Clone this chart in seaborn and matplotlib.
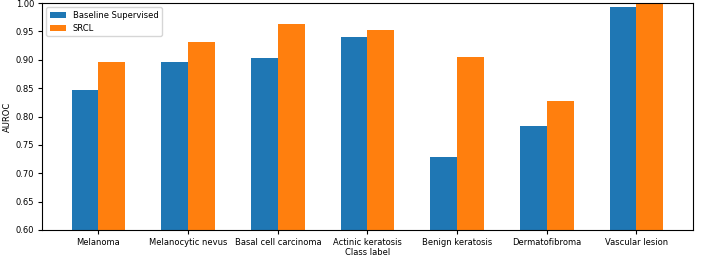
import pandas as pd
import seaborn as sns
import matplotlib.pyplot as plt

# AUROC per class
classes = ["Melanoma", "Melanocytic nevus", "Basal cell carcinoma", "Actinic keratosis",
           "Benign keratosis", "Dermatofibroma", "Vascular lesion"]
baseline = [0.847, 0.896, 0.904, 0.941, 0.728, 0.783, 0.993]
srcl = [0.897, 0.932, 0.963, 0.953, 0.905, 0.828, 1.000]

df = pd.DataFrame({
    "Class label": classes * 2,
    "AUROC": baseline + srcl,
    "Method": ["Baseline Supervised"] * len(classes) + ["SRCL"] * len(classes),
})

plt.rcParams["font.family"] = ["DejaVu Sans"]
fig = plt.figure(figsize=(7.06, 2.56), dpi=100)
ax = fig.add_axes([0.0595, 0.1016, 0.922, 0.8864])

sns.barplot(data=df, x="Class label", y="AUROC", hue="Method",
            palette=["#1f77b4", "#ff7f0e"], saturation=1, width=0.6, ax=ax)

ax.set_ylim(0.6, 1.0)
ax.set_xlim(-0.63, len(classes) - 1 + 0.63)
ax.tick_params(labelsize=6, length=3, pad=2.5)
ax.set_xlabel("Class label", fontsize=6, labelpad=1)
ax.set_ylabel("AUROC", fontsize=6, labelpad=3)
ax.legend(loc="upper left", fontsize=6, title=None)
for s in ax.spines.values():
    s.set_linewidth(0.8)

fig.savefig("out.png", dpi=100)
